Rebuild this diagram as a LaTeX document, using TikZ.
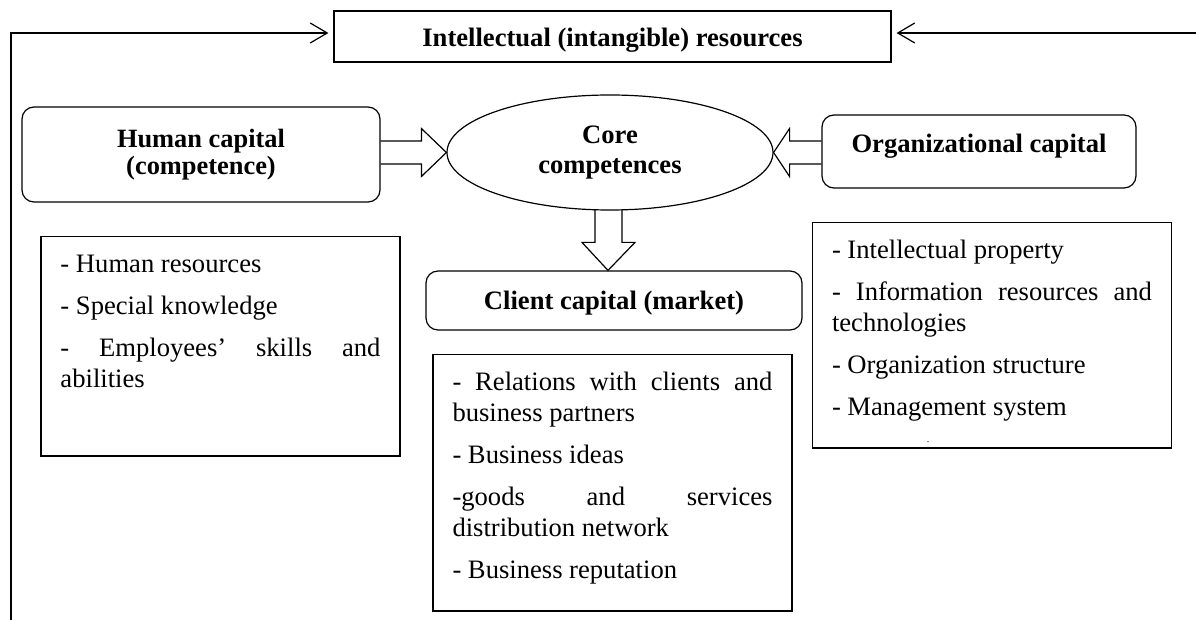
\documentclass[tikz,border=0pt]{standalone}
\usepackage{fontspec}
\setmainfont{Liberation Serif}
\usetikzlibrary{arrows.meta,calc,shapes.geometric}

\begin{document}
\begin{tikzpicture}[x=0.5pt,y=-0.5pt,line width=0.6pt,
    titlebox/.style={draw,minimum width=278.5pt,minimum height=25.5pt,text height=11pt,text depth=0.5pt,
        font=\fontsize{13.3}{15}\selectfont\bfseries},
    capbox/.style={draw,rounded corners=6pt,align=center},
    listbox/.style={draw,anchor=north,text width=160pt,align=justify,inner xsep=9.75pt,inner ysep=4pt,
        text height=13.75pt,font=\fontsize{13.3}{15.7}\selectfont,
        execute at begin node={\setlength{\parskip}{5.3pt}}},
    blockarrow/.style={draw,line join=miter},
    toparrow/.style={-{Straight Barb[length=8.5pt,width=10pt]},shorten >=2.5pt}]
    \useasboundingbox (0,0) rectangle (1196,620);
    % capitals
    \node[titlebox] (res) at (612.5,36.5) {Intellectual (intangible) resources};
    \node[capbox,minimum width=179pt,minimum height=47.5pt,font=\fontsize{13.2}{13.4}\selectfont\bfseries] (hum) at (201,154.5) {Human capital\\(competence)};
    \node[draw,ellipse,inner sep=0pt,minimum width=163pt,minimum height=57.5pt,align=center,font=\fontsize{13.3}{14.6}\selectfont\bfseries] (core) at (610,152.5) {Core\\competences};
    \node[capbox,minimum width=157pt,minimum height=36.5pt,text height=9pt,text depth=7.5pt,font=\fontsize{13.3}{15}\selectfont\bfseries] (org) at (979,151.5) {Organizational capital};
    \node[capbox,minimum width=188pt,minimum height=29.5pt,text height=11pt,text depth=1.5pt,font=\fontsize{13.3}{15}\selectfont\bfseries] (cli) at (614,300.5) {Client capital (market)};
    % lists
    \node[listbox,text depth=88pt] (hlist) at (220.5,236) {- Human resources\par
        - Special knowledge\par
        - Employees’ skills and\linebreak abilities};
    \node[listbox,text depth=106.5pt] (clist) at (612.5,354) {- Relations with clients and\linebreak business partners\par
        - Business ideas\par
        -goods and services\linebreak distribution network\par
        - Business reputation};
    \node[listbox,text depth=91pt] (olist) at (992,222) {- Intellectual property\par
        - Information resources and\linebreak technologies\par
        - Organization structure\par
        - Management system};
    \node[font=\fontsize{5}{6}\selectfont,inner sep=0pt] (dot) at (928,442) {.};
    % feedback lines
    \coordinate (lstart) at (11,620);
    \coordinate (rstart) at (1196,33);
    \coordinate (resw) at ($(res.west)+(0,-3.5)$);
    \coordinate (rese) at ($(res.east)+(0,-3.5)$);
    \draw[toparrow] (lstart) |- (resw);
    \draw[toparrow] (rstart) -- (rese);
    % block arrows
    \draw[blockarrow] ($(hum.east |- core.west)+(0,-11.5)$) -| ($(core.west)+(-25,-24)$) -- (core.west)
        -- ($(core.west)+(-25,24)$) |- ($(hum.east |- core.west)+(0,11.5)$);
    \draw[blockarrow] ($(org.west |- core.east)+(0,-11.5)$) -| ($(core.east)+(16,-24)$) -- (core.east)
        -- ($(core.east)+(16,24)$) |- ($(org.west |- core.east)+(0,11.5)$);
    \coordinate (tipc) at ($(cli.north)+(-6,0)$);
    \draw[blockarrow] ($(core.south -| tipc)+(-13,-0.5)$) -- ($(tipc)+(-13,-28)$) -- ($(tipc)+(-26,-28)$) -- (tipc)
        -- ($(tipc)+(27,-28)$) -- ($(tipc)+(14,-28)$) -- ($(core.south -| tipc)+(14,-0.5)$);
\end{tikzpicture}
\end{document}
